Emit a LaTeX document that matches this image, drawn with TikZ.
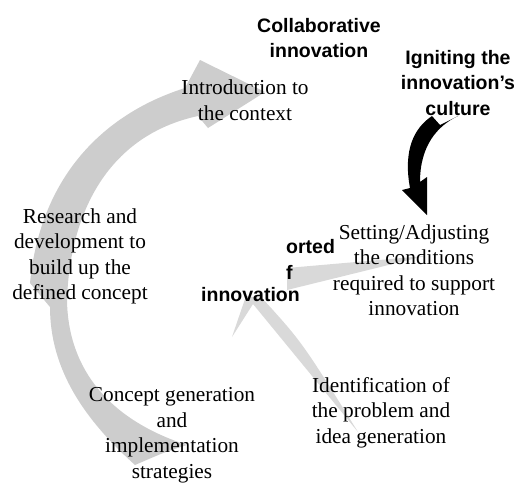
\documentclass[tikz,border=0pt]{standalone}
\usepackage{fontspec}
\setmainfont{Liberation Serif}
\setsansfont{Liberation Sans}
\definecolor{bandgray}{RGB}{205,205,205}
\definecolor{wedgegray}{RGB}{217,217,217}
\tikzset{
  serifbox/.style={align=center, inner sep=0pt, font=\fontsize{21.3}{25.5}\selectfont},
  boldbox/.style={align=center, inner sep=0pt, font=\sffamily\bfseries\fontsize{19.5}{25.5}\selectfont},
}
\begin{document}
\begin{tikzpicture}[x=1pt,y=-1pt]
\useasboundingbox (0,0) rectangle (517,483);
% large gray curved arrow
\fill[bandgray] (135,465) .. controls (85,420) and (50,370) .. (50,307)
  -- (30,283) .. controls (40,180) and (100,115) .. (185,88)
  -- (200,60) -- (265,92) -- (208,128) -- (198,116)
  .. controls (110,135) and (70,210) .. (67,300)
  .. controls (68,370) and (110,420) .. (187,445)
  .. controls (165,452) .. (135,465) -- cycle;
% wedge from Setting
\fill[wedgegray] (287,268) -- (425,256) -- (287,290) -- cycle;
% wedge from Identification
\fill[wedgegray] (358,432) -- (253,304) -- (232,337) -- (246,296) -- (262,298)
  .. controls (302,342) .. (358,432) -- cycle;
% black arrow
\fill[black] (432,116) -- (440,125) -- (458,116)
  .. controls (437,126) and (420,146) .. (420,182)
  -- (427,177) -- (427,215) -- (402,190) -- (410,188)
  .. controls (403,150) and (414,128) .. (432,116) -- cycle;
% texts
\node[boldbox] (collab) at (319,38) {Collaborative\\innovation};
\node[boldbox] (ignite) at (458,83) {Igniting the\\innovation’s\\culture};
\node[serifbox] (intro) at (245,100) {Introduction to\\the context};
\node[serifbox] (research) at (80,256.5) {Research and\\development to\\build up the\\defined concept};
\node[serifbox] (setting) at (414,270) {Setting/Adjusting\\the conditions\\required to support\\innovation};
\node[serifbox] (ident) at (381,412.5) {Identification of\\the problem and\\idea generation};
\node[serifbox] (concept) at (172,435) {Concept generation\\and\\implementation\\strategies};
\node[boldbox, anchor=west] (orted) at (286,247) {orted};
\node[boldbox, anchor=west] (fpart) at (286,272) {f};
\node[boldbox] (innov) at (250.5,295) {innovation};
\end{tikzpicture}
\end{document}
